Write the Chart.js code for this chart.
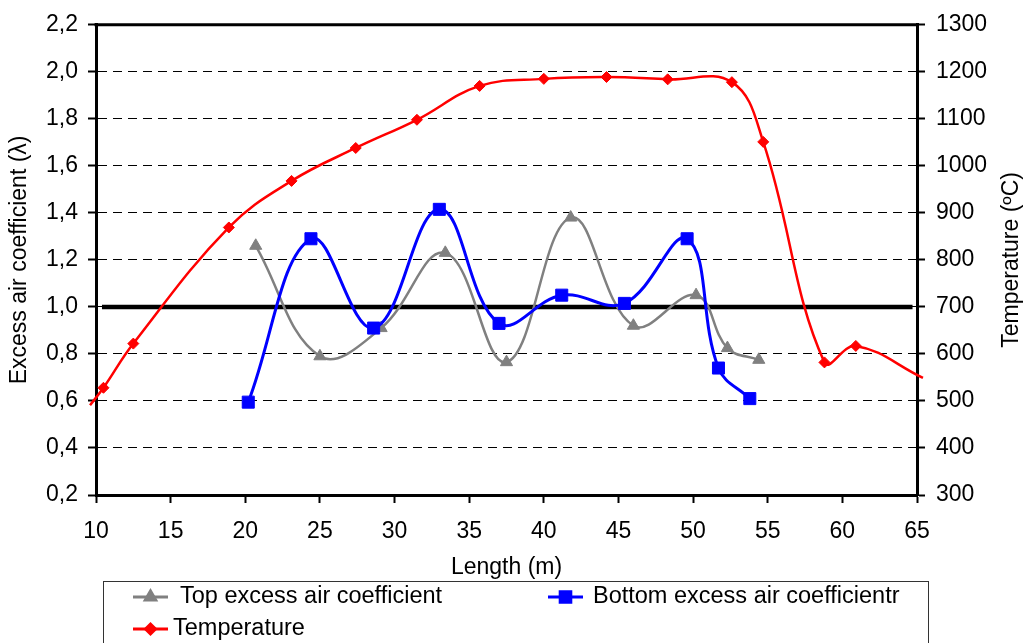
<!DOCTYPE html>
<html>
<head>
<meta charset="utf-8">
<title>Excess air coefficient and temperature along the kiln</title>
<script src="https://cdn.jsdelivr.net/npm/chart.js@4.4.1/dist/chart.umd.min.js"></script>
<style>
  body { margin: 0; background: #fff; }
  #chart { display: block; }
</style>
</head>
<body>
<canvas id="chart" width="1024" height="643"></canvas>
<script>
// Values
const topLength = [20.7, 25.0, 29.1, 33.4, 37.5, 41.8, 46.0, 50.2, 52.3, 54.4];
const topLambda = [1.26, 0.79, 0.91, 1.23, 0.765, 1.38, 0.92, 1.05, 0.825, 0.775];

const bottomLength = [20.2, 24.4, 28.6, 33.0, 37.0, 41.2, 45.4, 49.6, 51.7, 53.8];
const bottomLambda = [0.595, 1.29, 0.91, 1.415, 0.93, 1.05, 1.015, 1.29, 0.74, 0.61];

// first and last temperature points sit just outside the plotted range
const tempLength = [9.6, 10.5, 12.5, 18.9, 23.1, 27.4, 31.5, 35.7, 40.0, 44.2, 48.3, 52.6, 54.7, 58.8, 60.9, 65.4];
const temperature = [491, 528, 622, 869, 968, 1038, 1098, 1170, 1185, 1189, 1184, 1178, 1051, 582, 617, 549];

// stoichiometric line (lambda = 1)
const refLength = [10.4, 64.7];
const refLambda = [1.0, 1.0];

const xTicks = [10, 15, 20, 25, 30, 35, 40, 45, 50, 55, 60, 65];
const seriesNames = ['Top excess air coefficient', 'Bottom excess air coefficientr', 'Temperature'];

const FONT = "'Liberation Sans', Arial, Helvetica, sans-serif";
Chart.defaults.font.family = FONT;
Chart.defaults.font.size = 23;
Chart.defaults.color = '#000';

const toPoints = (xs, ys) => xs.map((x, i) => ({ x: x, y: ys[i] }));

// Box legend laid out like the original (two columns, two rows)
const legendItems = [
  { ds: 0, lineX: 133, textX: 180, y: 597, radius: 6 },
  { ds: 1, lineX: 548, textX: 593, y: 597, radius: 7.5 },
  { ds: 2, lineX: 133, textX: 173, y: 629, radius: 5 }
];

const framePlugin = {
  id: 'frame',
  beforeDraw(chart) {
    const ctx = chart.ctx;
    ctx.save();
    ctx.fillStyle = '#fff';
    ctx.fillRect(0, 0, chart.width, chart.height);
    ctx.restore();
  },
  afterDraw(chart) {
    const ctx = chart.ctx;
    const area = chart.chartArea;
    ctx.save();

    // top edge of the plot frame
    ctx.strokeStyle = '#000';
    ctx.lineWidth = 3;
    ctx.beginPath();
    ctx.moveTo(area.left - 1.5, area.top);
    ctx.lineTo(area.right + 1.5, area.top);
    ctx.stroke();

    // right axis title, reading bottom to top
    ctx.fillStyle = '#000';
    ctx.font = '23px ' + FONT;
    ctx.textAlign = 'center';
    ctx.textBaseline = 'middle';
    ctx.translate(1012, (area.top + area.bottom) / 2);
    ctx.rotate(-Math.PI / 2);
    ctx.fillText('Temperature (\u00baC)', 0, 0);
    ctx.setTransform(1, 0, 0, 1, 0, 0);

    // legend box
    ctx.strokeStyle = '#333';
    ctx.lineWidth = 1;
    ctx.strokeRect(103.5, 581.5, 825, 80);

    ctx.font = '23.5px ' + FONT;
    legendItems.forEach(item => {
      const ds = chart.data.datasets[item.ds];
      ctx.strokeStyle = ds.borderColor;
      ctx.lineWidth = 3;
      ctx.beginPath();
      ctx.moveTo(item.lineX, item.y);
      ctx.lineTo(item.lineX + 35, item.y);
      ctx.stroke();
      ctx.fillStyle = ds.borderColor;
      Chart.helpers.drawPoint(ctx, {
        pointStyle: ds.pointStyle,
        radius: item.radius,
        rotation: 0,
        borderWidth: 1
      }, item.lineX + 17.5, item.y);
      ctx.fillStyle = '#000';
      ctx.textAlign = 'left';
      ctx.textBaseline = 'middle';
      ctx.fillText(ds.label, item.textX, item.y);
    });
    ctx.restore();
  }
};

const edgeTick = v => v <= 0.21 || v >= 2.19;

new Chart(document.getElementById('chart').getContext('2d'), {
  type: 'line',
  data: {
    datasets: [
      {
        label: seriesNames[0],
        data: toPoints(topLength, topLambda),
        borderColor: '#808080',
        backgroundColor: '#808080',
        borderWidth: 2.5,
        pointStyle: 'triangle',
        pointRadius: 7,
        pointBorderWidth: 1,
        tension: 0.4,
        yAxisID: 'y',
        order: 2
      },
      {
        label: seriesNames[1],
        data: toPoints(bottomLength, bottomLambda),
        borderColor: '#0000ff',
        backgroundColor: '#0000ff',
        borderWidth: 3,
        pointStyle: 'rect',
        pointRadius: 8.5,
        pointBorderWidth: 1,
        tension: 0.4,
        yAxisID: 'y',
        order: 1
      },
      {
        label: seriesNames[2],
        data: toPoints(tempLength, temperature),
        borderColor: '#ff0000',
        backgroundColor: '#ff0000',
        borderWidth: 2.5,
        pointStyle: 'rectRot',
        pointRadius: ctx => (ctx.dataIndex === 0 || ctx.dataIndex === tempLength.length - 1) ? 0 : 5.5,
        pointBorderWidth: 1,
        tension: 0.4,
        capBezierPoints: false,
        clip: 8,
        yAxisID: 'y2',
        order: 0
      },
      {
        label: 'lambda = 1',
        data: toPoints(refLength, refLambda),
        borderColor: '#000',
        borderWidth: 4.5,
        pointRadius: 0,
        tension: 0,
        yAxisID: 'y',
        order: 3
      }
    ]
  },
  options: {
    responsive: false,
    animation: false,
    layout: { padding: { top: 20, bottom: 62, left: 0, right: 0 } },
    plugins: {
      legend: { display: false },
      tooltip: { enabled: false }
    },
    scales: {
      x: {
        type: 'linear',
        min: 10,
        max: 65,
        afterBuildTicks: scale => { scale.ticks = xTicks.map(v => ({ value: v })); },
        ticks: { padding: 15, maxRotation: 0, autoSkip: false, callback: v => String(v) },
        grid: { drawOnChartArea: false, tickLength: 8, tickWidth: 2, tickColor: '#000' },
        border: { color: '#000', width: 3 },
        title: { display: true, text: 'Length (m)', padding: { top: 0, bottom: 0 } },
        afterFit: scale => { scale.height = 86; }
      },
      y: {
        position: 'left',
        min: 0.2,
        max: 2.2,
        ticks: {
          stepSize: 0.2,
          padding: 10,
          callback: v => v.toFixed(1).replace('.', ',')
        },
        grid: {
          color: ctx => (ctx.tick && edgeTick(ctx.tick.value)) ? 'rgba(0,0,0,0)' : '#000',
          lineWidth: 1,
          tickLength: 8,
          tickWidth: 2,
          tickColor: '#000'
        },
        border: { color: '#000', width: 3, dash: [9, 6] },
        title: { display: true, text: 'Excess air coefficient (\u03bb)', padding: { top: 6, bottom: 0 } },
        afterFit: scale => { scale.width = 96; }
      },
      y2: {
        position: 'right',
        min: 300,
        max: 1300,
        ticks: { stepSize: 100, padding: 11, callback: v => String(v) },
        grid: { drawOnChartArea: false, tickLength: 8, tickWidth: 2, tickColor: '#000' },
        border: { color: '#000', width: 3 },
        afterFit: scale => { scale.width = 107; }
      }
    }
  },
  plugins: [framePlugin]
});
</script>
</body>
</html>
